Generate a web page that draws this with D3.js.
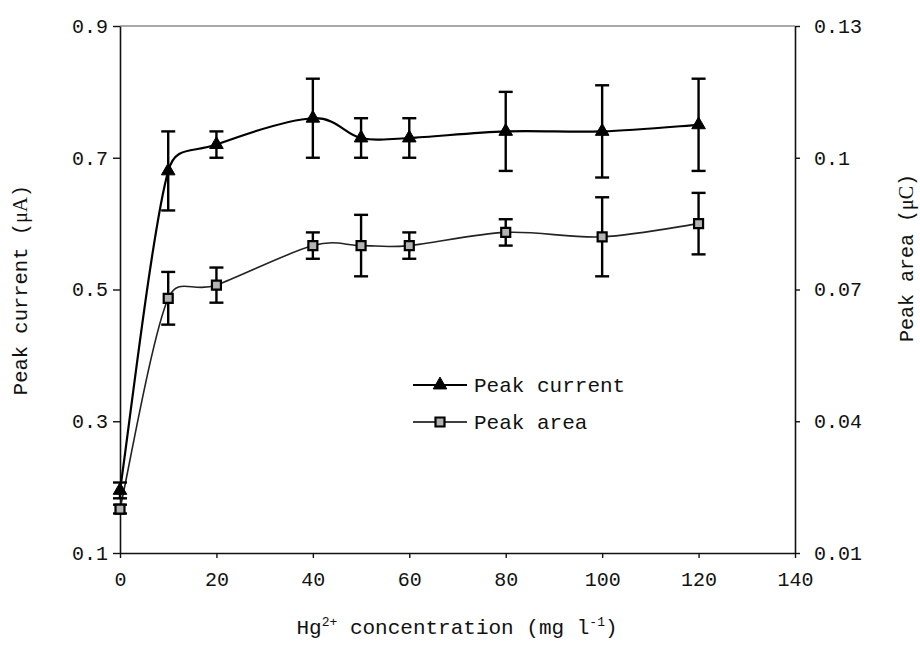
<!DOCTYPE html>
<html>
<head>
<meta charset="utf-8">
<script src="https://cdn.jsdelivr.net/npm/d3@7"></script>
<style>
  html, body { margin: 0; padding: 0; background: #fff; }
  svg { display: block; }
</style>
</head>
<body>
<svg id="chart" width="920" height="647"></svg>
<script>
// Hg2+ concentration (mg/l)
const concentrations = [0, 10, 20, 40, 50, 60, 80, 100, 120];
// Peak current (uA) with standard deviation
const peakCurrent    = [0.195, 0.68, 0.72, 0.76, 0.73, 0.73, 0.74, 0.74, 0.75];
const peakCurrentErr = [0.012, 0.06, 0.02, 0.06, 0.03, 0.03, 0.06, 0.07, 0.07];
// Peak area (uC) with standard deviation
const peakArea       = [0.020, 0.068, 0.071, 0.080, 0.080, 0.080, 0.083, 0.082, 0.085];
const peakAreaErr    = [0.001, 0.006, 0.004, 0.003, 0.007, 0.003, 0.003, 0.009, 0.007];
// Axis ticks
const xTicks      = [0, 20, 40, 60, 80, 100, 120, 140];
const leftTicks   = [0.1, 0.3, 0.5, 0.7, 0.9];
const rightTicks  = [0.01, 0.04, 0.07, 0.1, 0.13];
const seriesNames = ["Peak current", "Peak area"];

const svg = d3.select("#chart");
const FONT = "Liberation Mono, Courier New, monospace";

const x  = d3.scaleLinear().domain([0, 140]).range([120, 795]);
const yL = d3.scaleLinear().domain([0.1, 0.9]).range([553, 26]);
const yR = d3.scaleLinear().domain([0.01, 0.13]).range([553, 26]);

// frame top edge
svg.append("line")
  .attr("x1", x(0)).attr("x2", x(140))
  .attr("y1", yL(0.9)).attr("y2", yL(0.9))
  .attr("stroke", "#555").attr("stroke-width", 1.2);

function styleAxis(g) {
  g.selectAll("path.domain").attr("stroke", "#111").attr("stroke-width", 1.6);
  g.selectAll(".tick line").attr("stroke", "#111").attr("stroke-width", 1.4);
  g.selectAll(".tick text").attr("font-family", FONT).attr("font-size", 20).attr("fill", "#111");
}

svg.append("g")
  .attr("transform", `translate(0,${yL(0.1)})`)
  .call(d3.axisBottom(x).tickValues(xTicks).tickSize(5).tickSizeOuter(0).tickPadding(14).tickFormat(d3.format("d")))
  .call(styleAxis);

svg.append("g")
  .attr("transform", `translate(${x(0)},0)`)
  .call(d3.axisLeft(yL).tickValues(leftTicks).tickSize(7).tickSizeOuter(0).tickPadding(5).tickFormat(d3.format(".1f")))
  .call(styleAxis);

svg.append("g")
  .attr("transform", `translate(${x(140)},0)`)
  .call(d3.axisRight(yR).tickValues(rightTicks).tickSize(5).tickSizeOuter(0).tickPadding(14).tickFormat(d => String(d)))
  .call(styleAxis);

// Smoothed line: Catmull-Rom style Bezier handles, each handle limited
// to half the length of the segment it belongs to.
function smoothPath(pts, k = 0.5) {
  const p = d3.path();
  p.moveTo(pts[0][0], pts[0][1]);
  const clamp = (v, maxLen) => {
    const len = Math.hypot(v[0], v[1]);
    return len > maxLen ? [v[0] * maxLen / len, v[1] * maxLen / len] : v;
  };
  for (let i = 0; i < pts.length - 1; i++) {
    const p0 = pts[i - 1] || pts[i], p1 = pts[i], p2 = pts[i + 1], p3 = pts[i + 2] || pts[i + 1];
    const seg = Math.hypot(p2[0] - p1[0], p2[1] - p1[1]);
    const t1 = clamp([(p2[0] - p0[0]) / 6, (p2[1] - p0[1]) / 6], k * seg);
    const t2 = clamp([(p3[0] - p1[0]) / 6, (p3[1] - p1[1]) / 6], k * seg);
    p.bezierCurveTo(p1[0] + t1[0], p1[1] + t1[1], p2[0] - t2[0], p2[1] - t2[1], p2[0], p2[1]);
  }
  return p.toString();
}

const currentPts = concentrations.map((c, i) => [x(c), yL(peakCurrent[i])]);
const areaPts    = concentrations.map((c, i) => [x(c), yR(peakArea[i])]);

svg.append("path").attr("d", smoothPath(areaPts))
  .attr("fill", "none").attr("stroke", "#222").attr("stroke-width", 1.6);
svg.append("path").attr("d", smoothPath(currentPts))
  .attr("fill", "none").attr("stroke", "#000").attr("stroke-width", 2.2);

// error bars
function errorBars(vals, errs, scale) {
  const g = svg.append("g").attr("stroke", "#000").attr("stroke-width", 2.4);
  concentrations.forEach((c, i) => {
    const cx = x(c), y1 = scale(vals[i] + errs[i]), y0 = scale(vals[i] - errs[i]);
    g.append("line").attr("x1", cx).attr("x2", cx).attr("y1", y1).attr("y2", y0);
    g.append("line").attr("x1", cx - 7).attr("x2", cx + 7).attr("y1", y1).attr("y2", y1);
    g.append("line").attr("x1", cx - 7).attr("x2", cx + 7).attr("y1", y0).attr("y2", y0);
  });
}
errorBars(peakArea, peakAreaErr, yR);
errorBars(peakCurrent, peakCurrentErr, yL);

const triangle = d3.symbol(d3.symbolTriangle, 80);
const square   = d3.symbol(d3.symbolSquare, 81);

function squareMarker(g, px, py) {
  g.append("path").attr("d", square()).attr("transform", `translate(${px},${py})`)
    .attr("fill", "#b3b3b3").attr("stroke", "#000").attr("stroke-width", 2.2);
}
function triangleMarker(g, px, py) {
  g.append("path").attr("d", triangle()).attr("transform", `translate(${px},${py})`)
    .attr("fill", "#000").attr("stroke", "#000").attr("stroke-width", 1);
}

const marks = svg.append("g");
areaPts.forEach(p => squareMarker(marks, p[0], p[1]));
currentPts.forEach(p => triangleMarker(marks, p[0], p[1]));

// legend
const legend = svg.append("g");
[[385, triangleMarker, 2.2], [422, squareMarker, 1.6]].forEach(([ly, fn, sw], i) => {
  legend.append("line").attr("x1", 413).attr("x2", 467).attr("y1", ly).attr("y2", ly)
    .attr("stroke", "#000").attr("stroke-width", sw);
  fn(legend, 440, ly);
  legend.append("text").attr("x", 474).attr("y", ly).attr("dy", "0.35em")
    .attr("font-family", FONT).attr("font-size", 21).attr("fill", "#111")
    .text(seriesNames[i]);
});

// axis titles
const xt = svg.append("text").attr("x", 457).attr("y", 634).attr("text-anchor", "middle")
  .attr("font-family", FONT).attr("font-size", 21).attr("fill", "#111");
xt.append("tspan").text("Hg");
xt.append("tspan").attr("font-size", 13).attr("dy", -8).text("2+");
xt.append("tspan").attr("dy", 8).text(" concentration (mg l");
xt.append("tspan").attr("font-size", 13).attr("dy", -8).text("-1");
xt.append("tspan").attr("dy", 8).text(")");

const lt = svg.append("text").attr("transform", "translate(27,290) rotate(-90)")
  .attr("text-anchor", "middle").attr("font-family", FONT).attr("font-size", 20.5).attr("fill", "#111");
lt.append("tspan").text("Peak current  (");
lt.append("tspan").attr("font-family", "Liberation Serif, serif").text("μA");
lt.append("tspan").text(")");

const rt = svg.append("text").attr("transform", "translate(913,258) rotate(-90)")
  .attr("text-anchor", "middle").attr("font-family", FONT).attr("font-size", 20).attr("fill", "#111");
rt.append("tspan").text("Peak area  (");
rt.append("tspan").attr("font-family", "Liberation Serif, serif").text("μC");
rt.append("tspan").text(")");
</script>
</body>
</html>
